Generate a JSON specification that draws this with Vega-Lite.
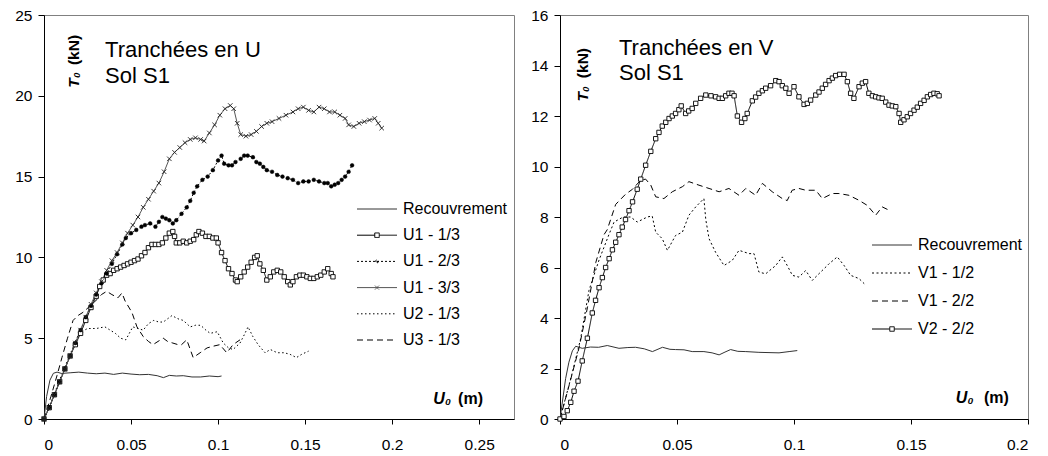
{
"$schema": "https://vega.github.io/schema/vega-lite/v6.json",
"background": "white",
"padding": {"left": 14, "top": 7, "right": 0, "bottom": 0},
"spacing": 15,
"config": {
 "font": "Liberation Sans",
 "view": {"stroke": "#808080", "strokeWidth": 1},
 "axis": {"grid": false, "domainColor": "black", "tickColor": "black", "labelColor": "black", "labelFont": "Liberation Sans", "labelFontSize": 15.5, "title": null}
},
"resolve": {"scale": {"strokeDash": "independent"}, "legend": {"strokeDash": "independent"}},
"datasets": {
"left": [
{"s":"Recouvrement","u":0,"t":0},{"s":"Recouvrement","u":0.0015,"t":1.4},{"s":"Recouvrement","u":0.0034,"t":2.4},{"s":"Recouvrement","u":0.0054,"t":2.83},{"s":"Recouvrement","u":0.0075,"t":2.9},{"s":"Recouvrement","u":0.01,"t":2.82},{"s":"Recouvrement","u":0.015,"t":2.86},{"s":"Recouvrement","u":0.02,"t":2.9},{"s":"Recouvrement","u":0.025,"t":2.84},{"s":"Recouvrement","u":0.03,"t":2.8},{"s":"Recouvrement","u":0.035,"t":2.84},{"s":"Recouvrement","u":0.04,"t":2.76},{"s":"Recouvrement","u":0.045,"t":2.84},{"s":"Recouvrement","u":0.05,"t":2.78},{"s":"Recouvrement","u":0.055,"t":2.74},{"s":"Recouvrement","u":0.06,"t":2.76},{"s":"Recouvrement","u":0.065,"t":2.68},{"s":"Recouvrement","u":0.0686,"t":2.56},{"s":"Recouvrement","u":0.072,"t":2.7},{"s":"Recouvrement","u":0.076,"t":2.66},{"s":"Recouvrement","u":0.08,"t":2.68},{"s":"Recouvrement","u":0.085,"t":2.6},{"s":"Recouvrement","u":0.09,"t":2.6},{"s":"Recouvrement","u":0.095,"t":2.66},{"s":"Recouvrement","u":0.1,"t":2.62},{"s":"Recouvrement","u":0.102,"t":2.66},
{"s":"U1 - 1/3","u":0,"t":0},{"s":"U1 - 1/3","u":0.003,"t":0.7},{"s":"U1 - 1/3","u":0.006,"t":1.5},{"s":"U1 - 1/3","u":0.009,"t":2.3},{"s":"U1 - 1/3","u":0.012,"t":3.1},{"s":"U1 - 1/3","u":0.015,"t":3.9},{"s":"U1 - 1/3","u":0.018,"t":4.6},{"s":"U1 - 1/3","u":0.021,"t":5.3},{"s":"U1 - 1/3","u":0.024,"t":6.1},{"s":"U1 - 1/3","u":0.027,"t":6.9},{"s":"U1 - 1/3","u":0.03,"t":7.6},{"s":"U1 - 1/3","u":0.032,"t":8.2},{"s":"U1 - 1/3","u":0.034,"t":8.6},{"s":"U1 - 1/3","u":0.036,"t":8.9},{"s":"U1 - 1/3","u":0.038,"t":9.0},{"s":"U1 - 1/3","u":0.04,"t":9.2},{"s":"U1 - 1/3","u":0.042,"t":9.3},{"s":"U1 - 1/3","u":0.044,"t":9.4},{"s":"U1 - 1/3","u":0.046,"t":9.5},{"s":"U1 - 1/3","u":0.048,"t":9.6},{"s":"U1 - 1/3","u":0.05,"t":9.7},{"s":"U1 - 1/3","u":0.052,"t":9.8},{"s":"U1 - 1/3","u":0.054,"t":9.9},{"s":"U1 - 1/3","u":0.056,"t":10.1},{"s":"U1 - 1/3","u":0.058,"t":10.3},{"s":"U1 - 1/3","u":0.06,"t":10.6},{"s":"U1 - 1/3","u":0.062,"t":10.8},{"s":"U1 - 1/3","u":0.064,"t":10.8},{"s":"U1 - 1/3","u":0.066,"t":10.8},{"s":"U1 - 1/3","u":0.068,"t":10.9},{"s":"U1 - 1/3","u":0.07,"t":11.2},{"s":"U1 - 1/3","u":0.072,"t":11.5},{"s":"U1 - 1/3","u":0.074,"t":11.6},{"s":"U1 - 1/3","u":0.075,"t":11.3},{"s":"U1 - 1/3","u":0.076,"t":10.9},{"s":"U1 - 1/3","u":0.078,"t":10.9},{"s":"U1 - 1/3","u":0.08,"t":11.0},{"s":"U1 - 1/3","u":0.082,"t":10.9},{"s":"U1 - 1/3","u":0.084,"t":11.0},{"s":"U1 - 1/3","u":0.086,"t":11.1},{"s":"U1 - 1/3","u":0.0875,"t":11.4},{"s":"U1 - 1/3","u":0.089,"t":11.6},{"s":"U1 - 1/3","u":0.091,"t":11.5},{"s":"U1 - 1/3","u":0.093,"t":11.3},{"s":"U1 - 1/3","u":0.095,"t":11.3},{"s":"U1 - 1/3","u":0.097,"t":11.2},{"s":"U1 - 1/3","u":0.099,"t":11.2},{"s":"U1 - 1/3","u":0.1,"t":10.9},{"s":"U1 - 1/3","u":0.102,"t":10.3},{"s":"U1 - 1/3","u":0.104,"t":9.8},{"s":"U1 - 1/3","u":0.106,"t":9.3},{"s":"U1 - 1/3","u":0.108,"t":9.0},{"s":"U1 - 1/3","u":0.11,"t":8.6},{"s":"U1 - 1/3","u":0.111,"t":8.5},{"s":"U1 - 1/3","u":0.113,"t":8.8},{"s":"U1 - 1/3","u":0.115,"t":9.1},{"s":"U1 - 1/3","u":0.117,"t":9.4},{"s":"U1 - 1/3","u":0.119,"t":9.7},{"s":"U1 - 1/3","u":0.121,"t":10.0},{"s":"U1 - 1/3","u":0.1225,"t":10.1},{"s":"U1 - 1/3","u":0.124,"t":9.6},{"s":"U1 - 1/3","u":0.126,"t":9.2},{"s":"U1 - 1/3","u":0.128,"t":8.6},{"s":"U1 - 1/3","u":0.13,"t":8.8},{"s":"U1 - 1/3","u":0.132,"t":9.1},{"s":"U1 - 1/3","u":0.134,"t":9.2},{"s":"U1 - 1/3","u":0.136,"t":9.1},{"s":"U1 - 1/3","u":0.138,"t":8.8},{"s":"U1 - 1/3","u":0.14,"t":8.5},{"s":"U1 - 1/3","u":0.1415,"t":8.3},{"s":"U1 - 1/3","u":0.143,"t":8.5},{"s":"U1 - 1/3","u":0.145,"t":8.8},{"s":"U1 - 1/3","u":0.147,"t":8.9},{"s":"U1 - 1/3","u":0.149,"t":8.9},{"s":"U1 - 1/3","u":0.151,"t":8.8},{"s":"U1 - 1/3","u":0.153,"t":8.7},{"s":"U1 - 1/3","u":0.155,"t":8.7},{"s":"U1 - 1/3","u":0.157,"t":8.8},{"s":"U1 - 1/3","u":0.159,"t":8.9},{"s":"U1 - 1/3","u":0.161,"t":9.1},{"s":"U1 - 1/3","u":0.163,"t":9.3},{"s":"U1 - 1/3","u":0.165,"t":9.0},{"s":"U1 - 1/3","u":0.166,"t":8.8},
{"s":"U1 - 2/3","u":0,"t":0},{"s":"U1 - 2/3","u":0.003,"t":0.7},{"s":"U1 - 2/3","u":0.006,"t":1.5},{"s":"U1 - 2/3","u":0.009,"t":2.3},{"s":"U1 - 2/3","u":0.012,"t":3.1},{"s":"U1 - 2/3","u":0.015,"t":3.9},{"s":"U1 - 2/3","u":0.018,"t":4.7},{"s":"U1 - 2/3","u":0.021,"t":5.5},{"s":"U1 - 2/3","u":0.024,"t":6.3},{"s":"U1 - 2/3","u":0.027,"t":7.0},{"s":"U1 - 2/3","u":0.03,"t":7.7},{"s":"U1 - 2/3","u":0.033,"t":8.4},{"s":"U1 - 2/3","u":0.036,"t":9.0},{"s":"U1 - 2/3","u":0.039,"t":9.6},{"s":"U1 - 2/3","u":0.042,"t":10.2},{"s":"U1 - 2/3","u":0.045,"t":10.8},{"s":"U1 - 2/3","u":0.047,"t":11.2},{"s":"U1 - 2/3","u":0.05,"t":11.5},{"s":"U1 - 2/3","u":0.053,"t":11.7},{"s":"U1 - 2/3","u":0.056,"t":11.9},{"s":"U1 - 2/3","u":0.058,"t":12.0},{"s":"U1 - 2/3","u":0.061,"t":12.1},{"s":"U1 - 2/3","u":0.064,"t":11.9},{"s":"U1 - 2/3","u":0.066,"t":12.2},{"s":"U1 - 2/3","u":0.068,"t":12.5},{"s":"U1 - 2/3","u":0.07,"t":12.4},{"s":"U1 - 2/3","u":0.072,"t":12.3},{"s":"U1 - 2/3","u":0.074,"t":12.1},{"s":"U1 - 2/3","u":0.076,"t":12.3},{"s":"U1 - 2/3","u":0.079,"t":12.7},{"s":"U1 - 2/3","u":0.082,"t":13.1},{"s":"U1 - 2/3","u":0.084,"t":13.5},{"s":"U1 - 2/3","u":0.086,"t":14.0},{"s":"U1 - 2/3","u":0.088,"t":14.4},{"s":"U1 - 2/3","u":0.091,"t":14.8},{"s":"U1 - 2/3","u":0.094,"t":15.0},{"s":"U1 - 2/3","u":0.097,"t":15.4},{"s":"U1 - 2/3","u":0.1,"t":16.0},{"s":"U1 - 2/3","u":0.102,"t":16.3},{"s":"U1 - 2/3","u":0.1035,"t":15.8},{"s":"U1 - 2/3","u":0.106,"t":15.7},{"s":"U1 - 2/3","u":0.108,"t":15.7},{"s":"U1 - 2/3","u":0.11,"t":15.9},{"s":"U1 - 2/3","u":0.113,"t":16.1},{"s":"U1 - 2/3","u":0.115,"t":16.3},{"s":"U1 - 2/3","u":0.117,"t":16.3},{"s":"U1 - 2/3","u":0.12,"t":16.2},{"s":"U1 - 2/3","u":0.122,"t":15.9},{"s":"U1 - 2/3","u":0.124,"t":15.8},{"s":"U1 - 2/3","u":0.126,"t":15.6},{"s":"U1 - 2/3","u":0.128,"t":15.4},{"s":"U1 - 2/3","u":0.131,"t":15.3},{"s":"U1 - 2/3","u":0.134,"t":15.1},{"s":"U1 - 2/3","u":0.137,"t":15.0},{"s":"U1 - 2/3","u":0.14,"t":14.9},{"s":"U1 - 2/3","u":0.143,"t":14.8},{"s":"U1 - 2/3","u":0.146,"t":14.6},{"s":"U1 - 2/3","u":0.149,"t":14.7},{"s":"U1 - 2/3","u":0.152,"t":14.7},{"s":"U1 - 2/3","u":0.155,"t":14.8},{"s":"U1 - 2/3","u":0.158,"t":14.7},{"s":"U1 - 2/3","u":0.161,"t":14.6},{"s":"U1 - 2/3","u":0.163,"t":14.6},{"s":"U1 - 2/3","u":0.165,"t":14.4},{"s":"U1 - 2/3","u":0.167,"t":14.5},{"s":"U1 - 2/3","u":0.169,"t":14.6},{"s":"U1 - 2/3","u":0.171,"t":14.8},{"s":"U1 - 2/3","u":0.173,"t":15.0},{"s":"U1 - 2/3","u":0.175,"t":15.3},{"s":"U1 - 2/3","u":0.177,"t":15.7},
{"s":"U1 - 3/3","u":0,"t":0},{"s":"U1 - 3/3","u":0.003,"t":0.7},{"s":"U1 - 3/3","u":0.006,"t":1.5},{"s":"U1 - 3/3","u":0.009,"t":2.3},{"s":"U1 - 3/3","u":0.012,"t":3.1},{"s":"U1 - 3/3","u":0.015,"t":3.9},{"s":"U1 - 3/3","u":0.018,"t":4.7},{"s":"U1 - 3/3","u":0.021,"t":5.5},{"s":"U1 - 3/3","u":0.024,"t":6.3},{"s":"U1 - 3/3","u":0.027,"t":7.1},{"s":"U1 - 3/3","u":0.03,"t":7.8},{"s":"U1 - 3/3","u":0.033,"t":8.5},{"s":"U1 - 3/3","u":0.036,"t":9.2},{"s":"U1 - 3/3","u":0.039,"t":9.8},{"s":"U1 - 3/3","u":0.042,"t":10.3},{"s":"U1 - 3/3","u":0.045,"t":10.9},{"s":"U1 - 3/3","u":0.048,"t":11.5},{"s":"U1 - 3/3","u":0.051,"t":12.0},{"s":"U1 - 3/3","u":0.054,"t":12.5},{"s":"U1 - 3/3","u":0.057,"t":13.1},{"s":"U1 - 3/3","u":0.06,"t":13.6},{"s":"U1 - 3/3","u":0.063,"t":14.1},{"s":"U1 - 3/3","u":0.066,"t":14.6},{"s":"U1 - 3/3","u":0.069,"t":15.3},{"s":"U1 - 3/3","u":0.072,"t":16.1},{"s":"U1 - 3/3","u":0.075,"t":16.5},{"s":"U1 - 3/3","u":0.078,"t":16.8},{"s":"U1 - 3/3","u":0.081,"t":17.1},{"s":"U1 - 3/3","u":0.084,"t":17.3},{"s":"U1 - 3/3","u":0.087,"t":17.4},{"s":"U1 - 3/3","u":0.09,"t":17.3},{"s":"U1 - 3/3","u":0.092,"t":17.2},{"s":"U1 - 3/3","u":0.095,"t":17.7},{"s":"U1 - 3/3","u":0.098,"t":18.2},{"s":"U1 - 3/3","u":0.101,"t":18.8},{"s":"U1 - 3/3","u":0.104,"t":19.2},{"s":"U1 - 3/3","u":0.107,"t":19.4},{"s":"U1 - 3/3","u":0.109,"t":19.2},{"s":"U1 - 3/3","u":0.111,"t":18.3},{"s":"U1 - 3/3","u":0.113,"t":17.6},{"s":"U1 - 3/3","u":0.116,"t":17.5},{"s":"U1 - 3/3","u":0.119,"t":17.6},{"s":"U1 - 3/3","u":0.122,"t":17.8},{"s":"U1 - 3/3","u":0.125,"t":18.1},{"s":"U1 - 3/3","u":0.128,"t":18.3},{"s":"U1 - 3/3","u":0.131,"t":18.4},{"s":"U1 - 3/3","u":0.135,"t":18.6},{"s":"U1 - 3/3","u":0.139,"t":18.8},{"s":"U1 - 3/3","u":0.143,"t":19.0},{"s":"U1 - 3/3","u":0.146,"t":19.2},{"s":"U1 - 3/3","u":0.149,"t":19.3},{"s":"U1 - 3/3","u":0.152,"t":19.1},{"s":"U1 - 3/3","u":0.155,"t":19.0},{"s":"U1 - 3/3","u":0.158,"t":19.3},{"s":"U1 - 3/3","u":0.161,"t":19.2},{"s":"U1 - 3/3","u":0.164,"t":19.0},{"s":"U1 - 3/3","u":0.167,"t":19.0},{"s":"U1 - 3/3","u":0.17,"t":18.8},{"s":"U1 - 3/3","u":0.173,"t":18.6},{"s":"U1 - 3/3","u":0.175,"t":18.2},{"s":"U1 - 3/3","u":0.178,"t":18.1},{"s":"U1 - 3/3","u":0.181,"t":18.3},{"s":"U1 - 3/3","u":0.184,"t":18.4},{"s":"U1 - 3/3","u":0.187,"t":18.5},{"s":"U1 - 3/3","u":0.19,"t":18.6},{"s":"U1 - 3/3","u":0.192,"t":18.3},{"s":"U1 - 3/3","u":0.194,"t":18.0},
{"s":"U2 - 1/3","u":0,"t":0},{"s":"U2 - 1/3","u":0.005,"t":1.3},{"s":"U2 - 1/3","u":0.01,"t":2.7},{"s":"U2 - 1/3","u":0.015,"t":4.0},{"s":"U2 - 1/3","u":0.02,"t":5.3},{"s":"U2 - 1/3","u":0.025,"t":5.6},{"s":"U2 - 1/3","u":0.03,"t":5.6},{"s":"U2 - 1/3","u":0.035,"t":5.7},{"s":"U2 - 1/3","u":0.038,"t":5.5},{"s":"U2 - 1/3","u":0.041,"t":5.3},{"s":"U2 - 1/3","u":0.044,"t":5.0},{"s":"U2 - 1/3","u":0.047,"t":4.9},{"s":"U2 - 1/3","u":0.051,"t":5.7},{"s":"U2 - 1/3","u":0.054,"t":5.6},{"s":"U2 - 1/3","u":0.057,"t":5.5},{"s":"U2 - 1/3","u":0.06,"t":5.9},{"s":"U2 - 1/3","u":0.063,"t":6.1},{"s":"U2 - 1/3","u":0.066,"t":6.0},{"s":"U2 - 1/3","u":0.0685,"t":6.0},{"s":"U2 - 1/3","u":0.0735,"t":6.4},{"s":"U2 - 1/3","u":0.077,"t":6.2},{"s":"U2 - 1/3","u":0.08,"t":6.1},{"s":"U2 - 1/3","u":0.084,"t":5.7},{"s":"U2 - 1/3","u":0.087,"t":5.8},{"s":"U2 - 1/3","u":0.09,"t":5.8},{"s":"U2 - 1/3","u":0.093,"t":5.5},{"s":"U2 - 1/3","u":0.0955,"t":5.3},{"s":"U2 - 1/3","u":0.0995,"t":5.4},{"s":"U2 - 1/3","u":0.103,"t":4.7},{"s":"U2 - 1/3","u":0.106,"t":4.4},{"s":"U2 - 1/3","u":0.1086,"t":4.3},{"s":"U2 - 1/3","u":0.1126,"t":4.7},{"s":"U2 - 1/3","u":0.115,"t":5.2},{"s":"U2 - 1/3","u":0.1172,"t":5.7},{"s":"U2 - 1/3","u":0.12,"t":5.1},{"s":"U2 - 1/3","u":0.123,"t":4.6},{"s":"U2 - 1/3","u":0.127,"t":4.1},{"s":"U2 - 1/3","u":0.13,"t":4.3},{"s":"U2 - 1/3","u":0.134,"t":4.1},{"s":"U2 - 1/3","u":0.138,"t":4.1},{"s":"U2 - 1/3","u":0.1414,"t":4.0},{"s":"U2 - 1/3","u":0.145,"t":3.8},{"s":"U2 - 1/3","u":0.148,"t":4.0},{"s":"U2 - 1/3","u":0.152,"t":4.2},
{"s":"U3 - 1/3","u":0,"t":0},{"s":"U3 - 1/3","u":0.004,"t":1.4},{"s":"U3 - 1/3","u":0.0075,"t":2.7},{"s":"U3 - 1/3","u":0.0103,"t":3.8},{"s":"U3 - 1/3","u":0.0135,"t":5.0},{"s":"U3 - 1/3","u":0.0167,"t":6.1},{"s":"U3 - 1/3","u":0.0195,"t":6.4},{"s":"U3 - 1/3","u":0.0224,"t":6.6},{"s":"U3 - 1/3","u":0.0265,"t":7.0},{"s":"U3 - 1/3","u":0.0305,"t":7.4},{"s":"U3 - 1/3","u":0.033,"t":7.7},{"s":"U3 - 1/3","u":0.036,"t":7.9},{"s":"U3 - 1/3","u":0.039,"t":7.7},{"s":"U3 - 1/3","u":0.0425,"t":7.5},{"s":"U3 - 1/3","u":0.0448,"t":7.8},{"s":"U3 - 1/3","u":0.0466,"t":7.3},{"s":"U3 - 1/3","u":0.0505,"t":6.6},{"s":"U3 - 1/3","u":0.0534,"t":5.7},{"s":"U3 - 1/3","u":0.057,"t":5.1},{"s":"U3 - 1/3","u":0.06,"t":4.8},{"s":"U3 - 1/3","u":0.0626,"t":4.6},{"s":"U3 - 1/3","u":0.0655,"t":4.8},{"s":"U3 - 1/3","u":0.0685,"t":5.0},{"s":"U3 - 1/3","u":0.071,"t":4.8},{"s":"U3 - 1/3","u":0.074,"t":4.7},{"s":"U3 - 1/3","u":0.077,"t":4.6},{"s":"U3 - 1/3","u":0.079,"t":4.6},{"s":"U3 - 1/3","u":0.082,"t":4.9},{"s":"U3 - 1/3","u":0.0857,"t":3.8},{"s":"U3 - 1/3","u":0.0897,"t":4.1},{"s":"U3 - 1/3","u":0.0937,"t":4.4},{"s":"U3 - 1/3","u":0.097,"t":4.5},{"s":"U3 - 1/3","u":0.101,"t":4.6},{"s":"U3 - 1/3","u":0.105,"t":4.1},{"s":"U3 - 1/3","u":0.1086,"t":4.6},{"s":"U3 - 1/3","u":0.1126,"t":4.9}
],
"right": [
{"s":"Recouvrement","u":0,"t":0},{"s":"Recouvrement","u":0.0024,"t":1.6},{"s":"Recouvrement","u":0.0038,"t":2.25},{"s":"Recouvrement","u":0.0053,"t":2.7},{"s":"Recouvrement","u":0.0067,"t":2.88},{"s":"Recouvrement","u":0.0095,"t":2.8},{"s":"Recouvrement","u":0.013,"t":2.85},{"s":"Recouvrement","u":0.0165,"t":2.84},{"s":"Recouvrement","u":0.0202,"t":2.91},{"s":"Recouvrement","u":0.0252,"t":2.8},{"s":"Recouvrement","u":0.029,"t":2.83},{"s":"Recouvrement","u":0.0323,"t":2.84},{"s":"Recouvrement","u":0.036,"t":2.78},{"s":"Recouvrement","u":0.0395,"t":2.67},{"s":"Recouvrement","u":0.0438,"t":2.84},{"s":"Recouvrement","u":0.047,"t":2.76},{"s":"Recouvrement","u":0.0494,"t":2.75},{"s":"Recouvrement","u":0.053,"t":2.74},{"s":"Recouvrement","u":0.0565,"t":2.67},{"s":"Recouvrement","u":0.0615,"t":2.67},{"s":"Recouvrement","u":0.065,"t":2.62},{"s":"Recouvrement","u":0.068,"t":2.54},{"s":"Recouvrement","u":0.0705,"t":2.65},{"s":"Recouvrement","u":0.0729,"t":2.75},{"s":"Recouvrement","u":0.076,"t":2.68},{"s":"Recouvrement","u":0.0794,"t":2.67},{"s":"Recouvrement","u":0.085,"t":2.64},{"s":"Recouvrement","u":0.0936,"t":2.62},{"s":"Recouvrement","u":0.0979,"t":2.67},{"s":"Recouvrement","u":0.1014,"t":2.71},
{"s":"V1 - 1/2","u":0,"t":0},{"s":"V1 - 1/2","u":0.0053,"t":1.85},{"s":"V1 - 1/2","u":0.0088,"t":3.17},{"s":"V1 - 1/2","u":0.0124,"t":5.1},{"s":"V1 - 1/2","u":0.0167,"t":6.3},{"s":"V1 - 1/2","u":0.0209,"t":7.3},{"s":"V1 - 1/2","u":0.0231,"t":7.8},{"s":"V1 - 1/2","u":0.027,"t":8.0},{"s":"V1 - 1/2","u":0.0302,"t":8.0},{"s":"V1 - 1/2","u":0.033,"t":7.8},{"s":"V1 - 1/2","u":0.0373,"t":8.0},{"s":"V1 - 1/2","u":0.0394,"t":8.04},{"s":"V1 - 1/2","u":0.0409,"t":7.4},{"s":"V1 - 1/2","u":0.0437,"t":7.14},{"s":"V1 - 1/2","u":0.0459,"t":6.68},{"s":"V1 - 1/2","u":0.0494,"t":7.27},{"s":"V1 - 1/2","u":0.0523,"t":7.4},{"s":"V1 - 1/2","u":0.0551,"t":8.07},{"s":"V1 - 1/2","u":0.058,"t":8.4},{"s":"V1 - 1/2","u":0.0615,"t":8.73},{"s":"V1 - 1/2","u":0.0623,"t":7.9},{"s":"V1 - 1/2","u":0.0637,"t":7.14},{"s":"V1 - 1/2","u":0.0665,"t":6.6},{"s":"V1 - 1/2","u":0.0701,"t":6.08},{"s":"V1 - 1/2","u":0.0736,"t":6.28},{"s":"V1 - 1/2","u":0.0765,"t":6.68},{"s":"V1 - 1/2","u":0.0808,"t":6.55},{"s":"V1 - 1/2","u":0.0829,"t":6.55},{"s":"V1 - 1/2","u":0.085,"t":5.82},{"s":"V1 - 1/2","u":0.0879,"t":5.75},{"s":"V1 - 1/2","u":0.0922,"t":6.08},{"s":"V1 - 1/2","u":0.095,"t":6.42},{"s":"V1 - 1/2","u":0.0971,"t":6.08},{"s":"V1 - 1/2","u":0.0993,"t":5.69},{"s":"V1 - 1/2","u":0.1021,"t":5.62},{"s":"V1 - 1/2","u":0.105,"t":5.88},{"s":"V1 - 1/2","u":0.1078,"t":5.49},{"s":"V1 - 1/2","u":0.1114,"t":5.82},{"s":"V1 - 1/2","u":0.115,"t":6.15},{"s":"V1 - 1/2","u":0.1185,"t":6.42},{"s":"V1 - 1/2","u":0.1214,"t":6.08},{"s":"V1 - 1/2","u":0.1242,"t":5.69},{"s":"V1 - 1/2","u":0.1278,"t":5.56},{"s":"V1 - 1/2","u":0.13,"t":5.36},
{"s":"V1 - 2/2","u":0,"t":0},{"s":"V1 - 2/2","u":0.0038,"t":1.3},{"s":"V1 - 2/2","u":0.0081,"t":2.8},{"s":"V1 - 2/2","u":0.0117,"t":4.4},{"s":"V1 - 2/2","u":0.0153,"t":6.2},{"s":"V1 - 2/2","u":0.0188,"t":7.3},{"s":"V1 - 2/2","u":0.0202,"t":7.5},{"s":"V1 - 2/2","u":0.0238,"t":8.5},{"s":"V1 - 2/2","u":0.028,"t":8.9},{"s":"V1 - 2/2","u":0.031,"t":9.1},{"s":"V1 - 2/2","u":0.0345,"t":9.46},{"s":"V1 - 2/2","u":0.0366,"t":9.5},{"s":"V1 - 2/2","u":0.0388,"t":9.26},{"s":"V1 - 2/2","u":0.0409,"t":8.8},{"s":"V1 - 2/2","u":0.0444,"t":8.73},{"s":"V1 - 2/2","u":0.048,"t":9.0},{"s":"V1 - 2/2","u":0.0523,"t":9.2},{"s":"V1 - 2/2","u":0.0551,"t":9.4},{"s":"V1 - 2/2","u":0.0594,"t":9.26},{"s":"V1 - 2/2","u":0.0637,"t":9.13},{"s":"V1 - 2/2","u":0.068,"t":9.0},{"s":"V1 - 2/2","u":0.0722,"t":9.13},{"s":"V1 - 2/2","u":0.0765,"t":8.86},{"s":"V1 - 2/2","u":0.0794,"t":9.13},{"s":"V1 - 2/2","u":0.0836,"t":8.86},{"s":"V1 - 2/2","u":0.0865,"t":9.33},{"s":"V1 - 2/2","u":0.0907,"t":9.0},{"s":"V1 - 2/2","u":0.095,"t":8.73},{"s":"V1 - 2/2","u":0.0971,"t":8.65},{"s":"V1 - 2/2","u":0.0992,"t":9.06},{"s":"V1 - 2/2","u":0.1021,"t":9.13},{"s":"V1 - 2/2","u":0.105,"t":9.06},{"s":"V1 - 2/2","u":0.1093,"t":9.06},{"s":"V1 - 2/2","u":0.1121,"t":8.73},{"s":"V1 - 2/2","u":0.1164,"t":8.93},{"s":"V1 - 2/2","u":0.1192,"t":8.93},{"s":"V1 - 2/2","u":0.1235,"t":8.86},{"s":"V1 - 2/2","u":0.1278,"t":8.66},{"s":"V1 - 2/2","u":0.1313,"t":8.46},{"s":"V1 - 2/2","u":0.1349,"t":8.07},{"s":"V1 - 2/2","u":0.1377,"t":8.4},{"s":"V1 - 2/2","u":0.1406,"t":8.27},
{"s":"V2 - 2/2","u":0,"t":0},{"s":"V2 - 2/2","u":0.0017,"t":0.1},{"s":"V2 - 2/2","u":0.0031,"t":0.33},{"s":"V2 - 2/2","u":0.0046,"t":0.66},{"s":"V2 - 2/2","u":0.006,"t":1.1},{"s":"V2 - 2/2","u":0.0077,"t":1.5},{"s":"V2 - 2/2","u":0.0095,"t":2.3},{"s":"V2 - 2/2","u":0.0117,"t":3.2},{"s":"V2 - 2/2","u":0.0138,"t":4.2},{"s":"V2 - 2/2","u":0.0152,"t":4.7},{"s":"V2 - 2/2","u":0.0167,"t":5.2},{"s":"V2 - 2/2","u":0.0181,"t":5.6},{"s":"V2 - 2/2","u":0.0195,"t":6.0},{"s":"V2 - 2/2","u":0.021,"t":6.35},{"s":"V2 - 2/2","u":0.0224,"t":6.7},{"s":"V2 - 2/2","u":0.0238,"t":7.0},{"s":"V2 - 2/2","u":0.0252,"t":7.3},{"s":"V2 - 2/2","u":0.0266,"t":7.6},{"s":"V2 - 2/2","u":0.028,"t":7.9},{"s":"V2 - 2/2","u":0.0295,"t":8.25},{"s":"V2 - 2/2","u":0.031,"t":8.6},{"s":"V2 - 2/2","u":0.033,"t":9.1},{"s":"V2 - 2/2","u":0.0345,"t":9.5},{"s":"V2 - 2/2","u":0.0366,"t":10.05},{"s":"V2 - 2/2","u":0.0388,"t":10.6},{"s":"V2 - 2/2","u":0.0409,"t":11.1},{"s":"V2 - 2/2","u":0.0423,"t":11.35},{"s":"V2 - 2/2","u":0.0437,"t":11.6},{"s":"V2 - 2/2","u":0.0452,"t":11.75},{"s":"V2 - 2/2","u":0.0466,"t":11.9},{"s":"V2 - 2/2","u":0.048,"t":12.0},{"s":"V2 - 2/2","u":0.0494,"t":12.1},{"s":"V2 - 2/2","u":0.0508,"t":12.25},{"s":"V2 - 2/2","u":0.0518,"t":12.4},{"s":"V2 - 2/2","u":0.0537,"t":12.1},{"s":"V2 - 2/2","u":0.055,"t":12.2},{"s":"V2 - 2/2","u":0.0565,"t":12.3},{"s":"V2 - 2/2","u":0.058,"t":12.5},{"s":"V2 - 2/2","u":0.0601,"t":12.7},{"s":"V2 - 2/2","u":0.0623,"t":12.83},{"s":"V2 - 2/2","u":0.0645,"t":12.8},{"s":"V2 - 2/2","u":0.0665,"t":12.76},{"s":"V2 - 2/2","u":0.068,"t":12.7},{"s":"V2 - 2/2","u":0.0694,"t":12.7},{"s":"V2 - 2/2","u":0.0708,"t":12.8},{"s":"V2 - 2/2","u":0.0722,"t":12.9},{"s":"V2 - 2/2","u":0.0735,"t":12.9},{"s":"V2 - 2/2","u":0.0744,"t":12.8},{"s":"V2 - 2/2","u":0.0758,"t":12.0},{"s":"V2 - 2/2","u":0.0776,"t":11.75},{"s":"V2 - 2/2","u":0.079,"t":11.9},{"s":"V2 - 2/2","u":0.08,"t":12.1},{"s":"V2 - 2/2","u":0.0822,"t":12.6},{"s":"V2 - 2/2","u":0.0836,"t":12.75},{"s":"V2 - 2/2","u":0.085,"t":12.9},{"s":"V2 - 2/2","u":0.0865,"t":13.0},{"s":"V2 - 2/2","u":0.0879,"t":13.1},{"s":"V2 - 2/2","u":0.09,"t":13.2},{"s":"V2 - 2/2","u":0.0922,"t":13.4},{"s":"V2 - 2/2","u":0.0936,"t":13.36},{"s":"V2 - 2/2","u":0.095,"t":13.2},{"s":"V2 - 2/2","u":0.0965,"t":13.1},{"s":"V2 - 2/2","u":0.0979,"t":12.9},{"s":"V2 - 2/2","u":0.1,"t":13.16},{"s":"V2 - 2/2","u":0.1021,"t":12.76},{"s":"V2 - 2/2","u":0.1043,"t":12.46},{"s":"V2 - 2/2","u":0.1057,"t":12.5},{"s":"V2 - 2/2","u":0.1071,"t":12.63},{"s":"V2 - 2/2","u":0.1093,"t":12.83},{"s":"V2 - 2/2","u":0.1107,"t":12.95},{"s":"V2 - 2/2","u":0.1121,"t":13.1},{"s":"V2 - 2/2","u":0.1135,"t":13.25},{"s":"V2 - 2/2","u":0.115,"t":13.4},{"s":"V2 - 2/2","u":0.1164,"t":13.5},{"s":"V2 - 2/2","u":0.1178,"t":13.6},{"s":"V2 - 2/2","u":0.1195,"t":13.65},{"s":"V2 - 2/2","u":0.1214,"t":13.65},{"s":"V2 - 2/2","u":0.1228,"t":13.36},{"s":"V2 - 2/2","u":0.1242,"t":12.9},{"s":"V2 - 2/2","u":0.1256,"t":12.7},{"s":"V2 - 2/2","u":0.1278,"t":13.16},{"s":"V2 - 2/2","u":0.1292,"t":13.3},{"s":"V2 - 2/2","u":0.1306,"t":13.36},{"s":"V2 - 2/2","u":0.132,"t":12.9},{"s":"V2 - 2/2","u":0.1335,"t":12.8},{"s":"V2 - 2/2","u":0.1349,"t":12.76},{"s":"V2 - 2/2","u":0.1363,"t":12.72},{"s":"V2 - 2/2","u":0.1377,"t":12.7},{"s":"V2 - 2/2","u":0.1392,"t":12.55},{"s":"V2 - 2/2","u":0.1406,"t":12.43},{"s":"V2 - 2/2","u":0.142,"t":12.4},{"s":"V2 - 2/2","u":0.1435,"t":12.37},{"s":"V2 - 2/2","u":0.1449,"t":12.1},{"s":"V2 - 2/2","u":0.1456,"t":11.75},{"s":"V2 - 2/2","u":0.147,"t":11.85},{"s":"V2 - 2/2","u":0.1484,"t":11.97},{"s":"V2 - 2/2","u":0.1498,"t":12.1},{"s":"V2 - 2/2","u":0.1513,"t":12.23},{"s":"V2 - 2/2","u":0.1527,"t":12.35},{"s":"V2 - 2/2","u":0.1541,"t":12.5},{"s":"V2 - 2/2","u":0.1556,"t":12.62},{"s":"V2 - 2/2","u":0.157,"t":12.76},{"s":"V2 - 2/2","u":0.1584,"t":12.85},{"s":"V2 - 2/2","u":0.1598,"t":12.9},{"s":"V2 - 2/2","u":0.1612,"t":12.88},{"s":"V2 - 2/2","u":0.162,"t":12.8}
]
},
"hconcat": [
{
 "width": 470, "height": 404,
 "data": {"name": "left"},
 "encoding": {
  "x": {"field": "u", "type": "quantitative", "scale": {"domain": [0, 0.27], "nice": false}, "axis": {"values": [0, 0.05, 0.1, 0.15, 0.2, 0.25], "format": "~g", "title": null, "tickSize": 5, "labelPadding": 13}},
  "y": {"field": "t", "type": "quantitative", "scale": {"domain": [0, 25], "nice": false}, "axis": {"values": [0, 5, 10, 15, 20, 25], "title": null, "tickSize": 6, "labelPadding": 6}}
 },
 "layer": [
  {"transform": [{"filter": "datum.s !== 'Recouvrement' && datum.s !== 'U1 - 3/3'"}],
   "mark": {"type": "line", "strokeWidth": 1, "color": "black"},
   "encoding": {
    "strokeDash": {"field": "s", "type": "nominal",
      "scale": {"domain": ["Recouvrement", "U1 - 1/3", "U1 - 2/3", "U1 - 3/3", "U2 - 1/3", "U3 - 1/3"], "range": [[1, 0], [1, 0], [2, 2], [1, 0], [1.5, 2.5], [6, 4]]},
      "legend": {"orient": "none", "legendX": 325, "legendY": 186, "title": null, "padding": 0, "symbolSize": 100, "symbolStrokeWidth": 1, "symbolOffset": 0, "labelOffset": 18, "labelFontSize": 16, "labelColor": "black", "rowPadding": 10.2,
        "symbolType": {"expr": "datum.value === 'U1 - 1/3' ? 'M-4,0H-0.45M0.45,0H4M-0.45,-0.45H0.45V0.45H-0.45Z' : datum.value === 'U1 - 2/3' ? 'M-4,0H4M0.3,0A0.3,0.3,0,1,1,-0.3,0A0.3,0.3,0,1,1,0.3,0M0.15,0A0.15,0.15,0,1,1,-0.15,0A0.15,0.15,0,1,1,0.15,0' : datum.value === 'U1 - 3/3' ? 'M-4,0H4M-0.4,-0.4L0.4,0.4M-0.4,0.4L0.4,-0.4' : 'M-4,0H4'"},
        "symbolFillColor": "white",
        "symbolStrokeColor": {"expr": "datum.value === 'Recouvrement' ? '#333333' : datum.value === 'U1 - 3/3' ? '#555555' : 'black'"}}
    }
   }},
  {"transform": [{"filter": "datum.s === 'Recouvrement'"}], "mark": {"type": "line", "strokeWidth": 1, "color": "#333333"}},
  {"transform": [{"filter": "datum.s === 'U1 - 3/3'"}], "mark": {"type": "line", "strokeWidth": 1, "color": "#555555"}},
  {"transform": [{"filter": "datum.s === 'U1 - 1/3'"}],
   "mark": {"type": "point", "shape": "square", "size": 19, "fill": "white", "stroke": "black", "strokeWidth": 0.9, "opacity": 1, "filled": false}},
  {"transform": [{"filter": "datum.s === 'U1 - 2/3'"}],
   "mark": {"type": "point", "shape": "circle", "size": 14, "fill": "black", "stroke": "black", "strokeWidth": 0.5, "opacity": 1, "filled": true}},
  {"transform": [{"filter": "datum.s === 'U1 - 3/3'"}],
   "mark": {"type": "point", "shape": "M-1,-1L1,1M-1,1L1,-1", "size": 20, "stroke": "#222222", "strokeWidth": 0.9, "opacity": 1, "filled": false}},
  {"transform": [{"filter": "datum.s === 'Recouvrement' && datum.u === 0"}], "mark": {"type": "text", "text": ["Tranchées en U", "Sol S1"], "align": "left", "baseline": "alphabetic", "fontSize": 22, "lineHeight": 25.5, "fill": "black"},
   "encoding": {"x": {"datum": 0.0351}, "y": {"datum": 22.4}}},
  {"transform": [{"filter": "datum.s === 'Recouvrement' && datum.u === 0"}], "mark": {"type": "text", "text": "T₀", "align": "left", "baseline": "middle", "angle": 270, "fontSize": 15.5, "fontWeight": "bold", "fontStyle": "italic", "fill": "black"},
   "encoding": {"x": {"datum": 0.0172}, "y": {"datum": 20.5}}},
  {"transform": [{"filter": "datum.s === 'Recouvrement' && datum.u === 0"}], "mark": {"type": "text", "text": "(kN)", "align": "left", "baseline": "middle", "angle": 270, "fontSize": 15.5, "fontWeight": "bold", "fill": "black"},
   "encoding": {"x": {"datum": 0.0172}, "y": {"datum": 21.9}}},
  {"transform": [{"filter": "datum.s === 'Recouvrement' && datum.u === 0"}], "mark": {"type": "text", "text": "U₀", "align": "left", "baseline": "alphabetic", "fontSize": 16, "fontWeight": "bold", "fontStyle": "italic", "fill": "black"},
   "encoding": {"x": {"datum": 0.2236}, "y": {"datum": 0.93}}},
  {"transform": [{"filter": "datum.s === 'Recouvrement' && datum.u === 0"}], "mark": {"type": "text", "text": "(m)", "align": "left", "baseline": "alphabetic", "fontSize": 16, "fontWeight": "bold", "fill": "black"},
   "encoding": {"x": {"datum": 0.2379}, "y": {"datum": 0.93}}}
 ]
},
{
 "width": 468, "height": 404,
 "data": {"name": "right"},
 "encoding": {
  "x": {"field": "u", "type": "quantitative", "scale": {"domain": [0, 0.2], "nice": false}, "axis": {"values": [0, 0.05, 0.1, 0.15, 0.2], "format": "~g", "title": null, "tickSize": 5, "labelPadding": 13}},
  "y": {"field": "t", "type": "quantitative", "scale": {"domain": [0, 16], "nice": false}, "axis": {"values": [0, 2, 4, 6, 8, 10, 12, 14, 16], "title": null, "tickSize": 6, "labelPadding": 6}}
 },
 "layer": [
  {"transform": [{"filter": "datum.s !== 'Recouvrement'"}],
   "mark": {"type": "line", "strokeWidth": 1, "color": "black"},
   "encoding": {
    "strokeDash": {"field": "s", "type": "nominal",
      "scale": {"domain": ["Recouvrement", "V1 - 1/2", "V1 - 2/2", "V2 - 2/2"], "range": [[1, 0], [2, 2.5], [6, 4], [1, 0]]},
      "legend": {"orient": "none", "legendX": 324, "legendY": 222, "title": null, "padding": 0, "symbolSize": 100, "symbolStrokeWidth": 1, "symbolOffset": 0, "labelOffset": 18, "labelFontSize": 16, "labelColor": "black", "rowPadding": 12,
        "symbolType": {"expr": "datum.value === 'V2 - 2/2' ? 'M-4,0H-0.45M0.45,0H4M-0.45,-0.45H0.45V0.45H-0.45Z' : 'M-4,0H4'"},
        "symbolFillColor": "white",
        "symbolStrokeColor": {"expr": "datum.value === 'Recouvrement' ? '#333333' : 'black'"}}
    }
   }},
  {"transform": [{"filter": "datum.s === 'Recouvrement'"}], "mark": {"type": "line", "strokeWidth": 1, "color": "#333333"}},
  {"transform": [{"filter": "datum.s === 'V2 - 2/2'"}],
   "mark": {"type": "point", "shape": "square", "size": 19, "fill": "white", "stroke": "black", "strokeWidth": 0.9, "opacity": 1, "filled": false}},
  {"transform": [{"filter": "datum.s === 'Recouvrement' && datum.u === 0"}], "mark": {"type": "text", "text": ["Tranchées en V", "Sol S1"], "align": "left", "baseline": "alphabetic", "fontSize": 22, "lineHeight": 25.5, "fill": "black"},
   "encoding": {"x": {"datum": 0.0252}, "y": {"datum": 14.42}}},
  {"transform": [{"filter": "datum.s === 'Recouvrement' && datum.u === 0"}], "mark": {"type": "text", "text": "T₀", "align": "left", "baseline": "middle", "angle": 270, "fontSize": 15.5, "fontWeight": "bold", "fontStyle": "italic", "fill": "black"},
   "encoding": {"x": {"datum": 0.0098}, "y": {"datum": 12.57}}},
  {"transform": [{"filter": "datum.s === 'Recouvrement' && datum.u === 0"}], "mark": {"type": "text", "text": "(kN)", "align": "left", "baseline": "middle", "angle": 270, "fontSize": 15.5, "fontWeight": "bold", "fill": "black"},
   "encoding": {"x": {"datum": 0.0098}, "y": {"datum": 13.5}}},
  {"transform": [{"filter": "datum.s === 'Recouvrement' && datum.u === 0"}], "mark": {"type": "text", "text": "U₀", "align": "left", "baseline": "alphabetic", "fontSize": 16, "fontWeight": "bold", "fontStyle": "italic", "fill": "black"},
   "encoding": {"x": {"datum": 0.1691}, "y": {"datum": 0.635}}},
  {"transform": [{"filter": "datum.s === 'Recouvrement' && datum.u === 0"}], "mark": {"type": "text", "text": "(m)", "align": "left", "baseline": "alphabetic", "fontSize": 16, "fontWeight": "bold", "fill": "black"},
   "encoding": {"x": {"datum": 0.1812}, "y": {"datum": 0.635}}}
 ]
}
]
}
